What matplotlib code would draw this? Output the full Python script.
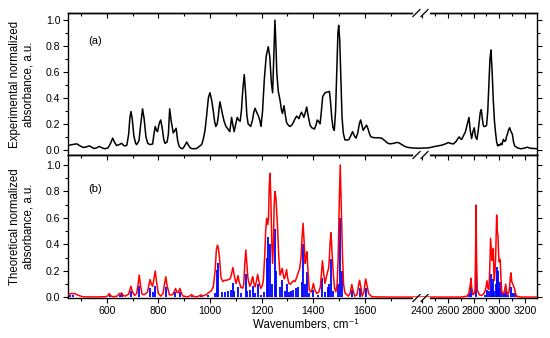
import matplotlib
matplotlib.use('Agg')
import matplotlib.pyplot as plt
from matplotlib.lines import Line2D
from matplotlib.ticker import MultipleLocator, FixedLocator

plt.rcParams['font.family'] = ['Liberation Sans', 'DejaVu Sans']
plt.rcParams['font.size'] = 7.6

# experimental spectrum
exp_x = [450, 465, 484, 497, 509, 520, 533, 542, 551, 561, 571, 582, 593, 605, 615, 623, 630, 638, 648, 658,
         665, 671, 678, 685, 690, 694, 699, 705, 712, 716, 725, 732, 739, 745, 752, 759, 768, 778, 783, 788,
         793, 797, 803, 809, 815, 821, 826, 834, 839, 844, 850, 858, 864, 869, 875, 881, 888, 894, 902, 910,
         917, 925, 937, 948, 955, 961, 968, 974, 981, 987, 994, 1000, 1007, 1013, 1018, 1023, 1028, 1032, 1036, 1039,
         1044, 1049, 1055, 1062, 1070, 1077, 1081, 1084, 1088, 1094, 1100, 1106, 1111, 1117, 1122, 1127, 1133, 1138, 1143, 1148,
         1158, 1165, 1170, 1175, 1181, 1188, 1193, 1198, 1204, 1211, 1218, 1226, 1232, 1238, 1243, 1247, 1252, 1256, 1259, 1265,
         1272, 1277, 1281, 1287, 1292, 1297, 1304, 1310, 1317, 1323, 1330, 1336, 1341, 1345, 1350, 1355, 1360, 1364, 1370, 1375,
         1380, 1388, 1395, 1405, 1411, 1416, 1421, 1427, 1432, 1437, 1446, 1455, 1463, 1467, 1472, 1477, 1482, 1487, 1492, 1496,
         1499, 1503, 1508, 1512, 1517, 1523, 1531, 1539, 1546, 1553, 1559, 1566, 1573, 1579, 1584, 1589, 1594, 1600, 1607, 1613,
         1619, 1624, 1632, 1640, 1653, 1666, 1678, 1690, 1698, 1712, 1722, 1730, 1740, 1752, 1763, 1780, 1795, 1818,
         2392, 2450, 2500, 2550, 2580, 2604, 2620, 2643, 2665, 2680, 2689, 2698, 2707, 2722, 2737, 2752, 2764, 2774, 2785, 2795,
         2805, 2815, 2826, 2836, 2844, 2852, 2860, 2868, 2875, 2880, 2890, 2901, 2910, 2919, 2927, 2935, 2944, 2953, 2962, 2971,
         2979, 2987, 2995, 3005, 3013, 3020, 3031, 3040, 3049, 3055, 3062, 3072, 3080, 3090, 3101, 3110, 3119, 3140, 3165, 3190,
         3217, 3240, 3270, 3297]
exp_y = [0.033, 0.04, 0.046, 0.03, 0.018, 0.022, 0.03, 0.02, 0.01, 0.015, 0.026, 0.015, 0.008, 0.015, 0.05, 0.09, 0.06, 0.033, 0.04, 0.05,
         0.035, 0.03, 0.035, 0.12, 0.25, 0.295, 0.24, 0.11, 0.05, 0.04, 0.07, 0.2, 0.316, 0.24, 0.1, 0.05, 0.04, 0.045, 0.12, 0.18,
         0.15, 0.14, 0.2, 0.23, 0.17, 0.08, 0.05, 0.06, 0.12, 0.316, 0.22, 0.13, 0.15, 0.166, 0.07, 0.025, 0.012, 0.008, 0.03, 0.06,
         0.035, 0.012, 0.008, 0.01, 0.02, 0.03, 0.04, 0.08, 0.15, 0.26, 0.4, 0.44, 0.38, 0.3, 0.22, 0.18, 0.2, 0.25, 0.33, 0.37,
         0.32, 0.27, 0.22, 0.18, 0.16, 0.14, 0.2, 0.25, 0.2, 0.14, 0.2, 0.25, 0.23, 0.22, 0.3, 0.45, 0.58, 0.45, 0.27, 0.2,
         0.18, 0.23, 0.29, 0.32, 0.29, 0.26, 0.23, 0.18, 0.3, 0.55, 0.72, 0.795, 0.72, 0.52, 0.44, 0.7, 1.0, 0.8, 0.6, 0.45,
         0.38, 0.31, 0.28, 0.34, 0.27, 0.21, 0.19, 0.18, 0.19, 0.21, 0.24, 0.26, 0.25, 0.24, 0.27, 0.29, 0.27, 0.25, 0.29, 0.33,
         0.27, 0.19, 0.17, 0.16, 0.19, 0.23, 0.22, 0.2, 0.3, 0.41, 0.44, 0.445, 0.45, 0.38, 0.25, 0.17, 0.15, 0.3, 0.65, 0.9,
         0.96, 0.85, 0.5, 0.25, 0.128, 0.077, 0.075, 0.08, 0.11, 0.14, 0.11, 0.09, 0.13, 0.2, 0.23, 0.19, 0.15, 0.17, 0.19, 0.16,
         0.12, 0.1, 0.095, 0.093, 0.093, 0.09, 0.07, 0.05, 0.046, 0.05, 0.056, 0.056, 0.045, 0.03, 0.02, 0.015, 0.013, 0.012,
         0.013, 0.015, 0.026, 0.035, 0.045, 0.056, 0.05, 0.045, 0.065, 0.09, 0.1, 0.085, 0.08, 0.11, 0.14, 0.2, 0.25, 0.15, 0.087, 0.14,
         0.17, 0.1, 0.08, 0.15, 0.22, 0.29, 0.31, 0.24, 0.19, 0.18, 0.18, 0.19, 0.3, 0.52, 0.7, 0.77, 0.6, 0.38, 0.22, 0.127,
         0.06, 0.03, 0.04, 0.035, 0.05, 0.04, 0.08, 0.065, 0.07, 0.1, 0.12, 0.155, 0.17, 0.14, 0.12, 0.06, 0.03, 0.015, 0.008, 0.012,
         0.02, 0.012, 0.01, 0.008]

# theoretical broadened spectrum (red)
theo_x = [450, 458, 466, 475, 488, 507, 560, 598, 605, 610, 616, 625, 640, 649, 653, 658, 664, 672, 685, 690,
          694, 699, 708, 716, 721, 726, 731, 737, 745, 758, 764, 768, 773, 778, 783, 788, 793, 800, 810, 818,
          824, 829, 834, 843, 855, 862, 867, 872, 876, 880, 884, 889, 896, 915, 925, 929, 934, 950, 962, 966,
          970, 985, 994, 1005, 1013, 1020, 1025, 1029, 1033, 1037, 1043, 1050, 1058, 1065, 1072, 1078, 1083, 1089, 1094, 1101,
          1105, 1109, 1113, 1120, 1127, 1131, 1135, 1139, 1143, 1147, 1150, 1155, 1159, 1163, 1166, 1170, 1175, 1180, 1185, 1190,
          1197, 1203, 1207, 1212, 1216, 1220, 1224, 1227, 1230, 1233, 1236, 1240, 1243, 1246, 1249, 1252, 1256, 1262, 1267, 1272,
          1276, 1280, 1284, 1288, 1292, 1297, 1301, 1306, 1312, 1316, 1323, 1330, 1336, 1343, 1348, 1353, 1357, 1361, 1365, 1369,
          1372, 1376, 1380, 1385, 1392, 1397, 1401, 1406, 1414, 1422, 1428, 1432, 1436, 1441, 1446, 1451, 1456, 1460, 1463, 1466,
          1469, 1473, 1478, 1483, 1488, 1493, 1497, 1501, 1505, 1509, 1514, 1518, 1523, 1536, 1543, 1547, 1550, 1554, 1561, 1570,
          1576, 1580, 1584, 1590, 1597, 1601, 1604, 1608, 1615, 1628, 1700, 1818,
          2392, 2700, 2750, 2762, 2767, 2775, 2780, 2785, 2795, 2805, 2811, 2815, 2819, 2823, 2829, 2845, 2862, 2880, 2888, 2897,
          2904, 2911, 2919, 2925, 2932, 2938, 2943, 2948, 2953, 2957, 2961, 2966, 2971, 2975, 2979, 2984, 2989, 2993, 2997, 3002,
          3007, 3012, 3018, 3026, 3033, 3040, 3049, 3056, 3064, 3072, 3080, 3085, 3090, 3096, 3105, 3112, 3118, 3125, 3134, 3150,
          3173, 3297]
theo_y = [0.018, 0.03, 0.028, 0.03, 0.018, 0.005, 0.004, 0.006, 0.015, 0.03, 0.012, 0.005, 0.01, 0.03, 0.025, 0.035, 0.015, 0.01, 0.025, 0.06,
          0.085, 0.045, 0.015, 0.03, 0.09, 0.17, 0.09, 0.025, 0.02, 0.04, 0.1, 0.136, 0.1, 0.085, 0.14, 0.2, 0.12, 0.03, 0.01, 0.03,
          0.1, 0.156, 0.09, 0.02, 0.02, 0.045, 0.068, 0.04, 0.035, 0.05, 0.068, 0.035, 0.01, 0.005, 0.015, 0.023, 0.01, 0.005, 0.015, 0.02,
          0.01, 0.02, 0.035, 0.05, 0.08, 0.2, 0.36, 0.395, 0.37, 0.3, 0.15, 0.12, 0.13, 0.13, 0.135, 0.14, 0.17, 0.226, 0.17, 0.106,
          0.13, 0.165, 0.12, 0.076, 0.07, 0.1, 0.25, 0.358, 0.26, 0.15, 0.12, 0.085, 0.1, 0.14, 0.156, 0.11, 0.08, 0.12, 0.174, 0.12,
          0.068, 0.09, 0.13, 0.3, 0.5, 0.597, 0.55, 0.6, 0.85, 0.937, 0.75, 0.4, 0.257, 0.4, 0.7, 0.8, 0.75, 0.53, 0.3, 0.17,
          0.19, 0.22, 0.17, 0.14, 0.16, 0.21, 0.15, 0.106, 0.1, 0.11, 0.126, 0.12, 0.15, 0.19, 0.22, 0.3, 0.45, 0.56, 0.42, 0.257,
          0.3, 0.345, 0.2, 0.055, 0.04, 0.07, 0.106, 0.06, 0.03, 0.04, 0.08, 0.18, 0.277, 0.18, 0.106, 0.15, 0.194, 0.22, 0.3, 0.42,
          0.489, 0.35, 0.18, 0.07, 0.043, 0.1, 0.3, 0.7, 1.0, 0.7, 0.3, 0.1, 0.035, 0.01, 0.03, 0.07, 0.098, 0.06, 0.01, 0.02,
          0.09, 0.13, 0.09, 0.01, 0.04, 0.11, 0.139, 0.1, 0.03, 0.005, 0.003, 0.003,
          0.003, 0.003, 0.01, 0.03, 0.055, 0.1, 0.144, 0.08, 0.02, 0.03, 0.05, 0.3, 0.698, 0.3, 0.055, 0.02, 0.015, 0.03, 0.045, 0.08,
          0.126, 0.07, 0.06, 0.2, 0.446, 0.35, 0.28, 0.32, 0.37, 0.2, 0.13, 0.2, 0.3, 0.45, 0.622, 0.5, 0.47, 0.35, 0.27, 0.27,
          0.287, 0.15, 0.05, 0.025, 0.03, 0.05, 0.1, 0.05, 0.025, 0.03, 0.08, 0.15, 0.186, 0.12, 0.1, 0.08, 0.068, 0.03, 0.01, 0.006,
          0.003, 0.003]

# calculated lines (blue sticks)
stick_x = [459, 470, 612, 650, 660, 694, 726, 768, 780, 788, 829, 866, 884, 929, 966, 994, 1020, 1029, 1033, 1045,
           1060, 1070, 1080, 1089, 1095, 1109, 1120, 1139, 1145, 1155, 1166, 1175, 1185, 1197, 1210, 1220, 1226, 1233, 1240, 1252,
           1258, 1272, 1280, 1290, 1297, 1306, 1316, 1323, 1333, 1343, 1355, 1361, 1369, 1376, 1385, 1401, 1420, 1436, 1446, 1456,
           1463, 1469, 1478, 1497, 1505, 1510, 1550, 1580, 1604,
           2767, 2780, 2819, 2888, 2904, 2920, 2932, 2943, 2953, 2961, 2971, 2979, 2985, 2989, 2997, 3007, 3018, 3033, 3049, 3064,
           3090, 3105, 3118, 3134]
stick_h = [0.015, 0.02, 0.02, 0.02, 0.025, 0.05, 0.09, 0.07, 0.04, 0.09, 0.08, 0.04, 0.04, 0.01, 0.01, 0.015, 0.03, 0.21, 0.26, 0.04,
           0.04, 0.05, 0.06, 0.11, 0.05, 0.08, 0.03, 0.18, 0.05, 0.06, 0.09, 0.03, 0.1, 0.02, 0.04, 0.3, 0.46, 0.4, 0.1, 0.52,
           0.2, 0.08, 0.13, 0.05, 0.1, 0.04, 0.05, 0.06, 0.07, 0.08, 0.12, 0.4, 0.1, 0.19, 0.03, 0.06, 0.02, 0.15, 0.04, 0.08,
           0.1, 0.29, 0.05, 0.1, 0.6, 0.2, 0.06, 0.07, 0.07,
           0.03, 0.08, 0.69, 0.02, 0.06, 0.05, 0.18, 0.08, 0.14, 0.05, 0.1, 0.23, 0.15, 0.2, 0.07, 0.12, 0.04, 0.03, 0.05, 0.02,
           0.08, 0.03, 0.03, 0.01]

left_range = (450, 1818)
right_range = (2392, 3292)

W, H = 550, 338
fig = plt.figure(figsize=(5.5, 3.38), dpi=100)

L = 68 / W
wl = (421 - 68) / W
wr = (537 - 421) / W
yb = 1 - 298 / H
ym = 1 - 155 / H
yt = 1 - 13 / H

ax_tl = fig.add_axes([L, ym, wl, yt - ym])
ax_tr = fig.add_axes([L + wl, ym, wr, yt - ym])
ax_bl = fig.add_axes([L, yb, wl, ym - yb])
ax_br = fig.add_axes([L + wl, yb, wr, ym - yb])

for ax in (ax_tl, ax_tr):
    ax.plot(exp_x, exp_y, color='black', lw=1.1)
    ax.set_ylim(-0.04, 1.055)

for ax in (ax_bl, ax_br):
    ax.vlines(stick_x, 0, stick_h, color='#0000ff', lw=1.3, zorder=2)
    ax.plot(theo_x, theo_y, color='#ff0000', lw=1.1, zorder=3)
    ax.set_ylim(-0.004, 1.075)

for ax in (ax_tl, ax_bl):
    ax.set_xlim(*left_range)
    ax.spines['right'].set_visible(False)
    ax.xaxis.set_major_locator(FixedLocator([600, 800, 1000, 1200, 1400, 1600]))
    ax.xaxis.set_minor_locator(FixedLocator([500, 700, 900, 1100, 1300, 1500, 1700]))
    ax.yaxis.set_major_locator(MultipleLocator(0.2))
    ax.yaxis.set_minor_locator(MultipleLocator(0.1))
    ax.tick_params(axis='y', which='both', direction='out', left=True, right=False)
    ax.yaxis.set_major_formatter(plt.FuncFormatter(lambda v, p: '%.1f' % v))

for ax in (ax_tr, ax_br):
    ax.set_xlim(*right_range)
    ax.spines['left'].set_visible(False)
    ax.xaxis.set_major_locator(FixedLocator([2400, 2600, 2800, 3000, 3200]))
    ax.xaxis.set_minor_locator(FixedLocator([2500, 2700, 2900, 3100]))
    ax.yaxis.set_major_locator(MultipleLocator(0.2))
    ax.yaxis.set_minor_locator(MultipleLocator(0.1))
    ax.tick_params(axis='y', which='both', direction='out', left=False, right=True,
                   labelleft=False, labelright=False)

for ax in (ax_tl, ax_tr, ax_bl, ax_br):
    ax.tick_params(which='major', length=3.5, width=0.8, pad=2)
    ax.tick_params(which='minor', length=2, width=0.8)
    ax.tick_params(axis='x', which='both', direction='out', bottom=True, top=False)
    for s in ax.spines.values():
        s.set_linewidth(1.0)
    # top-side ticks pointing inward
    sec = ax.secondary_xaxis('top')
    sec.set_xticks(ax.get_xticks(minor=False))
    sec.set_xticks(ax.get_xticks(minor=True), minor=True)
    sec.tick_params(which='both', direction='in', labeltop=False)
    sec.tick_params(which='major', length=3.5, width=0.8)
    sec.tick_params(which='minor', length=2, width=0.8)
    sec.spines['top'].set_linewidth(1.0)

for ax in (ax_tl, ax_tr):
    ax.tick_params(axis='x', labelbottom=False)

ax_tl.text(0.0765, 0.80, '(a)', transform=ax_tl.transAxes, ha='center', va='center', fontsize=8)
ax_bl.text(0.0765, 0.76, '(b)', transform=ax_bl.transAxes, ha='center', va='center', fontsize=8)

fig.text(22 / W, (ym + yt) / 2, 'Experimental normalized\nabsorbance, a.u.', rotation=90,
         ha='center', va='center', multialignment='center', fontsize=8.3)
fig.text(22 / W, (yb + ym) / 2, 'Theoretical normalized\nabsorbance, a.u.', rotation=90,
         ha='center', va='center', multialignment='center', fontsize=8.3)
fig.text(306 / W, 1 - 325 / H, 'Wavenumbers, cm⁻¹', ha='center', va='center', fontsize=8.3)

# axis break marks
for yp in (13, 155, 298):
    fig.add_artist(Line2D([414 / W, 428 / W], [1 - yp / H, 1 - yp / H], color='white', lw=2.0,
                          transform=fig.transFigure, zorder=10))
    for x0 in (413, 421):
        fig.add_artist(Line2D([x0 / W, (x0 + 7) / W], [1 - (yp + 3.5) / H, 1 - (yp - 3.5) / H],
                              color='black', lw=0.9, transform=fig.transFigure, zorder=11))

fig.savefig('out.png', dpi=100)
